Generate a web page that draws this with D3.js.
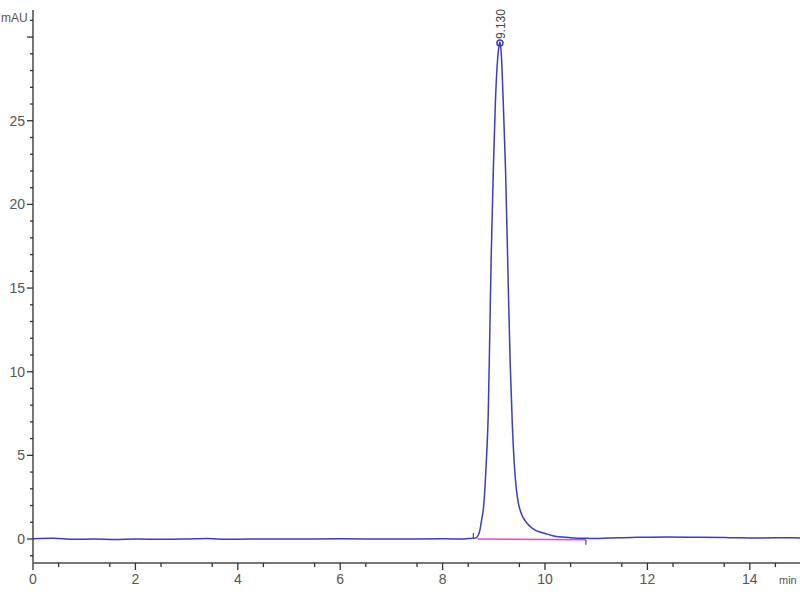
<!DOCTYPE html>
<html>
<head>
<meta charset="UTF-8">
<title>Chromatogram</title>
<script src="https://d3js.org/d3.v7.min.js"></script>
<style>
  body { margin: 0; background: #fff; }
  text { font-family: "Liberation Sans Narrow", "Arial Narrow", "Liberation Sans", sans-serif; fill: #555; }
</style>
</head>
<body>
<svg width="800" height="600"></svg>
<script>
// retention time (min) and signal (mAU)
const times = [0, 0.4, 0.8, 1.2, 1.6, 2.0, 2.6, 3.0, 3.4, 3.8, 4.2, 5.0, 6.0, 7.0, 8.0, 8.4, 8.5, 8.6, 8.66,
  8.70, 8.73, 8.76, 8.80, 8.83, 8.86, 8.89, 8.92, 8.95, 8.99, 9.03, 9.06, 9.09, 9.12, 9.15, 9.18, 9.23,
  9.28, 9.32, 9.36, 9.40, 9.44, 9.48, 9.54, 9.61, 9.70, 9.80, 9.90, 10.0, 10.15, 10.33, 10.5, 10.8, 11.0,
  11.4, 11.8, 12.4, 13.0, 13.6, 14.2, 14.8, 15.0];
const signal = [0.02, 0.04, -0.02, 0.0, -0.03, 0.0, -0.02, 0.0, 0.03, -0.02, 0.0, 0.0, 0.01, 0.0, 0.01, 0.0, 0.03, 0.04, 0.08,
  0.25, 0.55, 1.1, 1.9, 3.2, 5.0, 7.3, 12.0, 17.0, 22.0, 26.0, 28.0, 29.2, 29.7, 28.8, 26.5, 22.0,
  15.5, 10.5, 7.0, 4.5, 3.0, 2.15, 1.5, 1.1, 0.78, 0.55, 0.42, 0.33, 0.2, 0.12, 0.08, 0.04, 0.03,
  0.08, 0.1, 0.12, 0.1, 0.08, 0.06, 0.08, 0.06];

const peakTime = 9.12, peakHeight = 29.7, peakLabel = "9.130";
const baselineStart = [8.68, 0.0], baselineEnd = [10.8, -0.05];
const xTicks = [0, 2, 4, 6, 8, 10, 12, 14];
const yTicks = [0, 5, 10, 15, 20, 25];

const svg = d3.select("svg");
const x = d3.scaleLinear().domain([0, 15]).range([33, 801]);
const y = d3.scaleLinear().domain([0, 25]).range([539, 120.75]);
const axisY = 563, topY = 10;

// axes lines
svg.append("line").attr("x1", x(0)).attr("x2", 800).attr("y1", axisY).attr("y2", axisY)
  .attr("stroke", "#777").attr("stroke-width", 2);
svg.append("line").attr("x1", x(0)).attr("x2", x(0)).attr("y1", topY).attr("y2", axisY)
  .attr("stroke", "#777").attr("stroke-width", 2);

// x ticks
const xMinor = d3.range(0.5, 15, 1);
svg.selectAll(".xminor").data(xMinor).enter().append("line")
  .attr("x1", d => x(d)).attr("x2", d => x(d)).attr("y1", axisY).attr("y2", axisY + 4)
  .attr("stroke", "#333").attr("stroke-width", 1.3);
svg.selectAll(".xmajor").data(xTicks).enter().append("line")
  .attr("x1", d => x(d)).attr("x2", d => x(d)).attr("y1", axisY).attr("y2", axisY + 7)
  .attr("stroke", "#333").attr("stroke-width", 1.3);
svg.selectAll(".xlab").data(xTicks).enter().append("text")
  .attr("x", d => x(d)).attr("y", axisY + 21).attr("text-anchor", "middle")
  .style("font-size", "14px").text(d => d);
svg.append("text").attr("x", 779).attr("y", axisY + 21).style("font-size", "11px").text("min");

// y ticks
const yMinor = d3.range(-1, 32, 1).filter(d => d % 5 !== 0);
svg.selectAll(".yminor").data(yMinor).enter().append("line")
  .attr("x1", x(0) - 3).attr("x2", x(0)).attr("y1", d => y(d)).attr("y2", d => y(d))
  .attr("stroke", "#333").attr("stroke-width", 1.3);
svg.selectAll(".ymajor").data(yTicks.concat([30])).enter().append("line")
  .attr("x1", x(0) - 6).attr("x2", x(0)).attr("y1", d => y(d)).attr("y2", d => y(d))
  .attr("stroke", "#333").attr("stroke-width", 1.3);
svg.selectAll(".ylab").data(yTicks).enter().append("text")
  .attr("x", x(0) - 8).attr("y", d => y(d) + 5).attr("text-anchor", "end")
  .style("font-size", "14px").text(d => d);
svg.append("text").attr("x", 1).attr("y", 22).style("font-size", "12px").text("mAU");

// integration baseline
svg.append("line")
  .attr("x1", x(baselineStart[0])).attr("y1", y(baselineStart[1]))
  .attr("x2", x(baselineEnd[0])).attr("y2", y(baselineEnd[1]))
  .attr("stroke", "#ee44cc").attr("stroke-width", 1.5);
svg.append("line").attr("x1", x(8.6)).attr("x2", x(8.6))
  .attr("y1", y(0) - 6).attr("y2", y(0)).attr("stroke", "#333");
svg.append("line").attr("x1", x(baselineEnd[0])).attr("x2", x(baselineEnd[0]))
  .attr("y1", y(baselineEnd[1])).attr("y2", y(baselineEnd[1]) + 5).attr("stroke", "#333");

// signal trace
const data = times.map((t, i) => [t, signal[i]]);
svg.append("path").datum(data)
  .attr("fill", "none").attr("stroke", "#3b3bc4").attr("stroke-width", 1.5)
  .attr("d", d3.line().x(d => x(d[0])).y(d => y(d[1])).curve(d3.curveMonotoneX));

// peak marker and label
svg.append("circle").attr("cx", x(peakTime)).attr("cy", y(peakHeight) + 1).attr("r", 3)
  .attr("fill", "none").attr("stroke", "#3b3bc4").attr("stroke-width", 1.5);
svg.append("text")
  .attr("transform", `translate(${x(peakTime) + 5},${y(peakHeight) - 3}) rotate(-90)`)
  .style("font-size", "12px").style("fill", "#444").text(peakLabel);
</script>
</body>
</html>
